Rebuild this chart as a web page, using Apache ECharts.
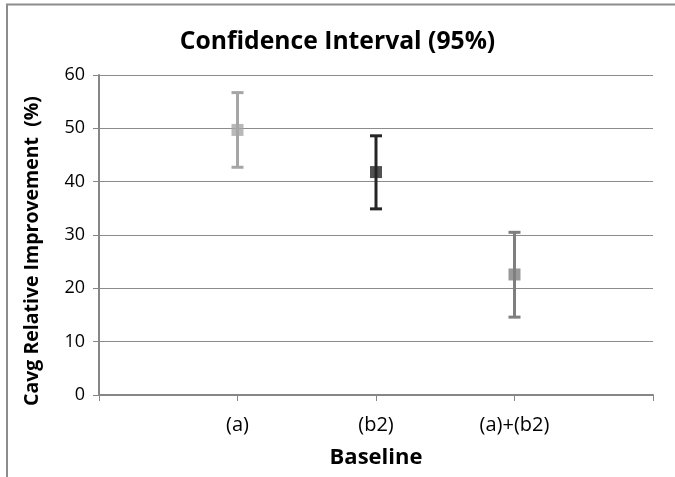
<!DOCTYPE html>
<html>
<head>
<meta charset="utf-8">
<script src="https://cdn.jsdelivr.net/npm/echarts@6/dist/echarts.min.js"></script>
<style>
html,body{margin:0;padding:0;background:#fff;}
#chart{width:675px;height:477px;}
</style>
</head>
<body>
<div id="chart"></div>
<script>
var categories = ['(a)', '(b2)', '(a)+(b2)'];
var means = [49.7, 41.8, 22.6];
var lowers = [42.7, 34.9, 14.6];
var uppers = [56.7, 48.6, 30.5];
var colors = ['#a6a6a6', '#262626', '#7f7f7f'];
var yTicks = [0, 10, 20, 30, 40, 50, 60];
var yTitle = 'Cavg Relative Improvement  (%)';

var FONT = '"Open Sans", "Noto Sans", sans-serif';
var chart = echarts.init(document.getElementById('chart'));

var errData = categories.map(function (c, i) { return [i + 1, lowers[i], uppers[i]]; });
var pointData = categories.map(function (c, i) {
  return { value: [i + 1, means[i]], itemStyle: { color: colors[i] } };
});

chart.setOption({
  backgroundColor: '#ffffff',
  animation: false,
  title: {
    text: 'Confidence Interval (95%)',
    left: 'center',
    top: 24,
    textStyle: { fontFamily: FONT, fontSize: 24.7, fontWeight: 'bold', color: '#000' }
  },
  graphic: [
    { type: 'line', shape: { x1: 6, y1: 4.5, x2: 675, y2: 4.5 }, style: { stroke: '#8c8c8c', lineWidth: 2 } },
    { type: 'line', shape: { x1: 7, y1: 4, x2: 7, y2: 477 }, style: { stroke: '#8c8c8c', lineWidth: 2 } },
    {
      type: 'text', x: 32, y: 251, rotation: Math.PI / 2,
      style: { text: yTitle, font: 'bold 19.5px ' + FONT, fill: '#000', align: 'center', verticalAlign: 'middle' }
    }
  ],
  grid: { left: 99, right: 22, top: 75, bottom: 82 },
  xAxis: {
    type: 'value',
    min: 0, max: 4, interval: 1,
    name: 'Baseline',
    nameLocation: 'middle',
    nameGap: 52,
    nameTextStyle: { fontFamily: FONT, fontSize: 22, fontWeight: 'bold', color: '#000' },
    axisLine: { lineStyle: { color: '#868686', width: 2 } },
    axisTick: { show: true, length: 6, lineStyle: { color: '#868686', width: 1 } },
    splitLine: { show: false },
    axisLabel: {
      margin: 20,
      fontFamily: FONT, fontSize: 20, color: '#000',
      formatter: function (v) { var i = Math.round(v) - 1; return (i >= 0 && i < categories.length) ? categories[i] : ''; }
    }
  },
  yAxis: {
    type: 'value',
    min: yTicks[0], max: yTicks[yTicks.length - 1], interval: 10,
    axisLine: { show: true, lineStyle: { color: '#868686', width: 2 } },
    axisTick: { show: true, length: 6, lineStyle: { color: '#868686' } },
    splitLine: { show: true, lineStyle: { color: '#8c8c8c', width: 1 } },
    axisLabel: { margin: 14, fontFamily: FONT, fontSize: 18, color: '#000' }
  },
  series: [
    {
      type: 'custom',
      data: errData,
      renderItem: function (params, api) {
        var i = params.dataIndex;
        var x = api.value(0);
        var lo = api.coord([x, api.value(1)]);
        var hi = api.coord([x, api.value(2)]);
        var hw = 6;
        var st = { stroke: colors[i], lineWidth: 3 };
        return {
          type: 'group',
          children: [
            { type: 'line', shape: { x1: lo[0], y1: lo[1], x2: hi[0], y2: hi[1] }, style: st },
            { type: 'line', shape: { x1: lo[0] - hw, y1: lo[1], x2: lo[0] + hw, y2: lo[1] }, style: st },
            { type: 'line', shape: { x1: hi[0] - hw, y1: hi[1], x2: hi[0] + hw, y2: hi[1] }, style: st }
          ]
        };
      },
      z: 2
    },
    {
      type: 'scatter',
      symbol: 'rect',
      symbolSize: 12,
      data: pointData,
      z: 3
    }
  ]
});
</script>
</body>
</html>
